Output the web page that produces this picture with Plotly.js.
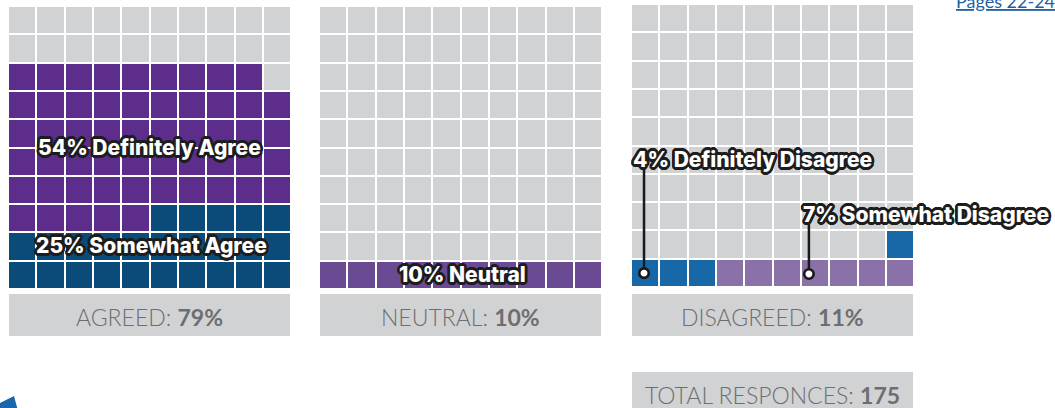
<!DOCTYPE html>
<html>
<head>
<meta charset="utf-8">
<script src="https://cdn.plot.ly/plotly-3.0.1.min.js"></script>
<style>
  html, body { margin: 0; padding: 0; background: #ffffff; }
  #chart { width: 1055px; height: 408px; }
</style>
</head>
<body>
<div id="chart"></div>
<script>
// ---------------- DATA ----------------
const panelNames = ["AGREED", "NEUTRAL", "DISAGREED"];
const panelTotals = [79, 10, 11];            // percent
const agreeCategories = ["Definitely Agree", "Somewhat Agree"];
const agreeValues = [54, 25];                 // percent (1 cell = 1%)
const neutralCategories = ["Neutral"];
const neutralValues = [10];
const disagreeCategories = ["Definitely Disagree", "Somewhat Disagree"];
const disagreeValues = [4, 7];
const totalResponses = 175;
const linkText = "Pages 22-24";

// ---------------- STYLE ----------------
const W = 1055, H = 408;
const GRAY = "#D1D2D4";
const agreeColors = ["#5C2D8A", "#0A4B7A"];
const neutralColors = ["#6A4A92"];
const disagreeColors = ["#1868A8", "#8A71A8"];
const px = x => x / W;
const py = y => 1 - y / H;

// fill order: which category fills from the bottom first (indices), and how rows run
function buildGrid(values, fillOrder, snake) {
  const z = [];
  for (let r = 0; r < 10; r++) z.push(new Array(10).fill(0));
  let seq = [];
  fillOrder.forEach(ci => { for (let k = 0; k < values[ci]; k++) seq.push(ci + 1); });
  let idx = 0;
  for (let r = 0; r < 10; r++) {
    const rightToLeft = snake ? (r % 2 === 0) : true;
    for (let c = 0; c < 10; c++) {
      const col = rightToLeft ? 9 - c : c;
      z[r][col] = idx < seq.length ? seq[idx] : 0;
      idx++;
    }
  }
  return z;
}
function scale(colors) {
  const all = [GRAY].concat(colors);
  const n = all.length - 1;
  return all.map((c, i) => [i / n, c]);
}
const cellPos = Array.from({length: 10}, (_, i) => i + 0.5);

function waffle(values, colors, order, snake, xa, ya) {
  const z = buildGrid(values, order, snake);
  return {
    type: "heatmap", x: cellPos, y: cellPos, z: z,
    zmin: 0, zmax: colors.length,
    colorscale: scale(colors), showscale: false,
    xgap: 2, ygap: 2, hoverinfo: "skip",
    xaxis: xa, yaxis: ya
  };
}

const traces = [
  waffle(agreeValues, agreeColors, [1, 0], true, "x", "y"),
  waffle(neutralValues, neutralColors, [0], true, "x2", "y2"),
  waffle(disagreeValues, disagreeColors, [1, 0], false, "x3", "y3")
];

// leader lines for the disagree labels (axis units of panel 3)
const leaderX = [0.46, 6.28];
const leaderTop = [4.24, 2.26];
const leaderBottom = [0.49, 0.46];
leaderX.forEach((lx, i) => {
  traces.push({
    type: "scatter", mode: "lines", x: [lx, lx], y: [leaderBottom[i], leaderTop[i]],
    line: {color: "#1a1a1a", width: 2.5}, xaxis: "x3", yaxis: "y3", hoverinfo: "skip", showlegend: false
  });
});
traces.push({
  type: "scatter", mode: "markers", x: leaderX, y: leaderBottom,
  marker: {color: "#ffffff", size: 9.5, line: {color: "#1a1a1a", width: 2.6}},
  xaxis: "x3", yaxis: "y3", hoverinfo: "skip", showlegend: false
});

// text outline via CSS shadow
const sh = [];
for (let a = 0; a < 360; a += 15) {
  const r = a * Math.PI / 180;
  sh.push((2.6 * Math.cos(r)).toFixed(2) + "px " + (2.6 * Math.sin(r)).toFixed(2) + "px 0 #1d1d1d");
}
const outline = sh.join(", ");
const labelFont = {family: "Inter, Lato, sans-serif", size: 21, color: "#ffffff", weight: 800, shadow: outline};

function hiddenAxis(d) {
  return {domain: d, range: [0, 10], visible: false, showgrid: false, zeroline: false, fixedrange: true};
}

const panelX = [[8, 291.3], [319, 602.3], [631, 914.3]];
const panelY = [[6, 289], [6, 289], [4, 287]];
const boxX = [[9, 290], [320, 601], [632, 913]];

const shapes = [];
const annotations = [];
boxX.forEach((b, i) => {
  shapes.push({type: "rect", xref: "paper", yref: "paper", x0: px(b[0]), x1: px(b[1]), y0: py(336), y1: py(294),
    fillcolor: GRAY, line: {width: 0}, layer: "below"});
  annotations.push({xref: "paper", yref: "paper", x: px((b[0] + b[1]) / 2), y: py(316.5),
    xanchor: "center", yanchor: "middle", showarrow: false,
    text: panelNames[i] + ": <b>" + panelTotals[i] + "%</b>",
    font: {family: "Lato, sans-serif", size: 23, color: "#6D6E71", weight: 300}});
});
// total box
shapes.push({type: "rect", xref: "paper", yref: "paper", x0: px(632), x1: px(913), y0: py(412), y1: py(372),
  fillcolor: GRAY, line: {width: 0}, layer: "below"});
annotations.push({xref: "paper", yref: "paper", x: px(772), y: py(394.5),
  xanchor: "center", yanchor: "middle", showarrow: false,
  text: "TOTAL RESPONCES: <b>" + totalResponses + "</b>",
  font: {family: "Lato, sans-serif", size: 23, color: "#6D6E71", weight: 300}});
// blue corner decoration
shapes.push({type: "path", xref: "paper", yref: "paper",
  path: "M" + px(0) + "," + py(409) + " L" + px(0) + "," + py(403) + " L" + px(14) + "," + py(396) + " L" + px(17.5) + "," + py(409) + " Z",
  fillcolor: "#1A66A8", line: {width: 0}});
// link text (cropped at the top edge, as in the source)
annotations.push({xref: "paper", yref: "paper", x: px(954), y: py(1), xanchor: "left", yanchor: "middle",
  showarrow: false, text: "<u>" + linkText + "</u>",
  font: {family: "Lato, sans-serif", size: 18, color: "#1F5FA6"}});

// category labels
annotations.push({xref: "x", yref: "y", x: 5, y: 5.0, showarrow: false, xanchor: "center", yanchor: "middle",
  text: agreeValues[0] + "% " + agreeCategories[0], font: labelFont});
annotations.push({xref: "x", yref: "y", x: 5.05, y: 1.55, showarrow: false, xanchor: "center", yanchor: "middle",
  text: agreeValues[1] + "% " + agreeCategories[1], font: labelFont});
annotations.push({xref: "x2", yref: "y2", x: 5.08, y: 0.5, showarrow: false, xanchor: "center", yanchor: "middle",
  text: neutralValues[0] + "% " + neutralCategories[0], font: labelFont});
annotations.push({xref: "x3", yref: "y3", x: 0.0, y: 4.5, showarrow: false, xanchor: "left", yanchor: "middle",
  text: disagreeValues[0] + "% " + disagreeCategories[0], font: labelFont});
annotations.push({xref: "x3", yref: "y3", x: 6.0, y: 2.55, showarrow: false, xanchor: "left", yanchor: "middle",
  text: disagreeValues[1] + "% " + disagreeCategories[1], font: labelFont});

const layout = {
  width: W, height: H,
  margin: {l: 0, r: 0, t: 0, b: 0},
  paper_bgcolor: "#ffffff", plot_bgcolor: "rgba(0,0,0,0)",
  showlegend: false,
  xaxis: hiddenAxis([px(panelX[0][0]), px(panelX[0][1])]),
  yaxis: hiddenAxis([py(panelY[0][1]), py(panelY[0][0])]),
  xaxis2: hiddenAxis([px(panelX[1][0]), px(panelX[1][1])]),
  yaxis2: hiddenAxis([py(panelY[1][1]), py(panelY[1][0])]),
  xaxis3: hiddenAxis([px(panelX[2][0]), px(panelX[2][1])]),
  yaxis3: hiddenAxis([py(panelY[2][1]), py(panelY[2][0])]),
  shapes: shapes,
  annotations: annotations
};

Plotly.newPlot("chart", traces, layout, {staticPlot: true, displayModeBar: false});
</script>
</body>
</html>
